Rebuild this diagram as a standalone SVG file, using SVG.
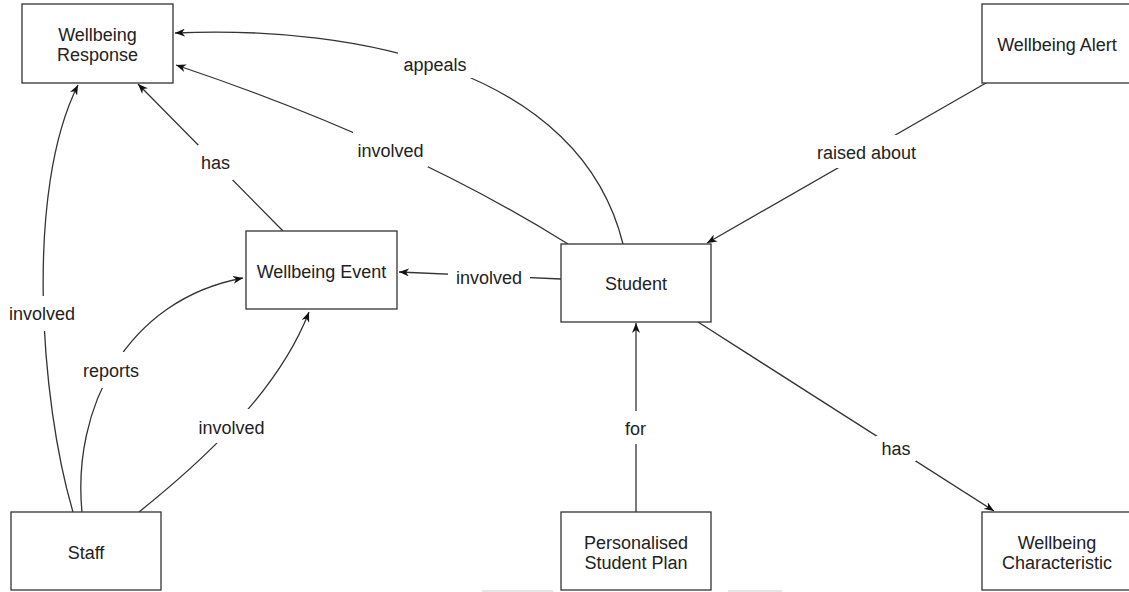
<svg xmlns="http://www.w3.org/2000/svg" width="1129" height="592" viewBox="0 0 1129 592">
<style>
.node rect{fill:#fff;stroke:#333;stroke-width:1.3}
.node text{font-family:"Liberation Sans",Arial,sans-serif;font-size:18px;fill:#222;text-anchor:middle}
.edge path{fill:none;stroke:#333;stroke-width:1.3;marker-end:url(#arr)}
.lbl rect{fill:#fff}
.lbl text{font-family:"Liberation Sans",Arial,sans-serif;font-size:18px;fill:#222;text-anchor:middle}
</style>
<defs>
<marker id="arr" viewBox="0 0 10 8" refX="10" refY="4" markerWidth="10" markerHeight="8" markerUnits="userSpaceOnUse" orient="auto">
<path d="M0,0 L10,4 L0,8 L3,4 z" fill="#111"/>
</marker>
</defs>
<rect width="1129" height="592" fill="#fff"/>
<g id="connectors">
<g class="edge">
<path d="M623,244 C580,70 360,25 175,33"/>
<path d="M568,244 Q405,142 176,65"/>
<path d="M283,231 L138,84"/>
<path d="M73,512 C40,400 25,190 78,85"/>
<path d="M82,512 C72,410 125,300 243,278"/>
<path d="M139,512 C185,475 275,400 309,312"/>
<path d="M561,279 L399,272"/>
<path d="M986,83 L707,243"/>
<path d="M698,322 L994,511"/>
<path d="M636,512 L636,323"/>
</g>
<g class="lbl">
<rect x="398" y="52" width="74" height="26"/><text x="435" y="70.5">appeals</text>
<rect x="353" y="131" width="75" height="36"/><text x="390.5" y="156.5">involved</text>
<rect x="198" y="145" width="35" height="35"/><text x="215.5" y="169">has</text>
<rect x="6" y="296" width="72" height="35"/><text x="42" y="320">involved</text>
<rect x="80" y="352" width="62" height="36"/><text x="111" y="376.5">reports</text>
<rect x="196" y="409" width="71" height="34"/><text x="231.5" y="434">involved</text>
<rect x="448" y="262" width="82" height="30"/><text x="489" y="283.5">involved</text>
<rect x="813" y="135" width="107" height="33"/><text x="866.5" y="158.5">raised about</text>
<rect x="876" y="436" width="40" height="25"/><text x="896" y="455">has</text>
<rect x="624" y="411" width="24" height="33"/><text x="635.5" y="434.5">for</text>
</g>
</g>
<g id="wellbeing-response" class="node"><rect x="22" y="4" width="151" height="79"/><text x="97.5" y="40.5">Wellbeing</text><text x="97.5" y="60.5">Response</text></g>
<g id="wellbeing-alert" class="node"><rect x="982" y="4" width="151" height="79"/><text x="1057" y="50.5">Wellbeing Alert</text></g>
<g id="wellbeing-event" class="node"><rect x="246" y="231" width="151" height="78"/><text x="321.5" y="277.5">Wellbeing Event</text></g>
<g id="student" class="node"><rect x="561" y="244" width="150" height="78"/><text x="636" y="289.5">Student</text></g>
<g id="staff" class="node"><rect x="11" y="512" width="150" height="78"/><text x="86" y="558.5">Staff</text></g>
<g id="personalised-student-plan" class="node"><rect x="561" y="512" width="150" height="78"/><text x="636" y="548.5">Personalised</text><text x="636" y="568.5">Student Plan</text></g>
<g id="wellbeing-characteristic" class="node"><rect x="982" y="512" width="151" height="78"/><text x="1057" y="549">Wellbeing</text><text x="1057" y="568.5">Characteristic</text></g>
<g id="artifacts" stroke="#d0d0d0" stroke-width="1.2">
<line x1="482" y1="591" x2="553" y2="591"/>
<line x1="728" y1="591" x2="782" y2="591"/>
</g>
</svg>
